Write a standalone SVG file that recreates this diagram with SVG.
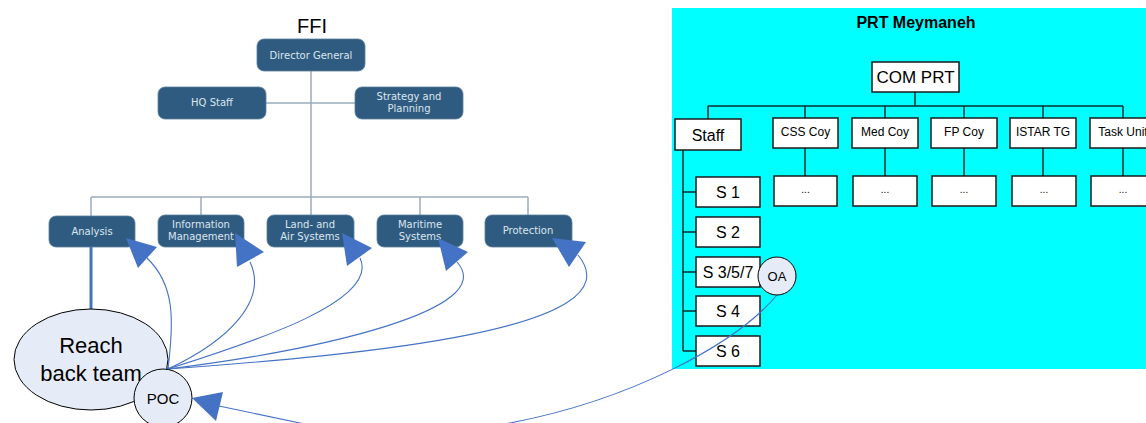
<svg xmlns="http://www.w3.org/2000/svg" width="1146" height="423" viewBox="0 0 1146 423">
<style>
.ffi rect{fill:#2f5b80;stroke:#5a7d9c;stroke-width:0.8}
.ffi text{fill:#dbe6ef;font-family:"DejaVu Sans",sans-serif;font-size:10px;text-anchor:middle}
.org{stroke:#9aacbf;stroke-width:1.5;fill:none}
.box rect{fill:#fff;stroke:#1a1a1a;stroke-width:1.5}
.box text{font-family:"Liberation Sans",Arial,sans-serif;fill:#000;text-anchor:middle}
.tree{stroke:#0e2e2e;stroke-width:1.5;fill:none}
.cv{fill:none;stroke:#4472c4;stroke-width:1.1}
.ah{fill:#4472c4}
.bub{fill:#e6ecf7;stroke:#000;stroke-width:1}
.bt{font-family:"Liberation Sans",Arial,sans-serif;fill:#000;text-anchor:middle}
</style>
<rect width="1146" height="423" fill="#fff"/>
<!-- PRT panel -->
<rect id="prt-panel" x="672" y="8" width="480" height="361" fill="#00ffff"/>
<text x="916" y="28" class="bt" font-size="16" font-weight="bold">PRT Meymaneh</text>
<!-- tree lines -->
<g id="prt-lines" class="tree">
<path d="M915,92V106M708,106H1123M708,106V119M805,106V118M885,106V118M964,106V118M1043,106V118M1123,106V118"/>
<path d="M805,148V176M885,148V176M964,148V176M1043,148V176M1123,148V176"/>
<path d="M683,150V351M683,192H696M683,232H696M683,272H696M683,311H696M683,351H696"/>
</g>
<g id="com-prt" class="box"><rect x="872" y="62" width="87" height="30"/><text x="915.5" y="83" font-size="17">COM PRT</text></g>
<g id="staff" class="box"><rect x="675" y="119" width="66" height="31"/><text x="708" y="141" font-size="16">Staff</text></g>
<g id="css-coy" class="box"><rect x="773" y="118" width="65" height="30"/><text x="805.5" y="136" font-size="12">CSS Coy</text></g>
<g id="med-coy" class="box"><rect x="852" y="118" width="66" height="30"/><text x="885" y="136" font-size="12">Med Coy</text></g>
<g id="fp-coy" class="box"><rect x="931" y="118" width="66" height="30"/><text x="964" y="136" font-size="12">FP Coy</text></g>
<g id="istar-tg" class="box"><rect x="1010" y="118" width="66" height="30"/><text x="1043" y="136" font-size="12">ISTAR TG</text></g>
<g id="task-unit" class="box"><rect x="1090" y="118" width="66" height="30"/><text x="1123" y="136" font-size="12">Task Unit</text></g>
<g id="css-sub" class="box"><rect x="774" y="176" width="63" height="30"/><text x="805.5" y="193" font-size="10">...</text></g>
<g id="med-sub" class="box"><rect x="853" y="176" width="64" height="30"/><text x="885" y="193" font-size="10">...</text></g>
<g id="fp-sub" class="box"><rect x="932" y="176" width="64" height="30"/><text x="964" y="193" font-size="10">...</text></g>
<g id="istar-sub" class="box"><rect x="1012" y="176" width="64" height="30"/><text x="1044" y="193" font-size="10">...</text></g>
<g id="task-sub" class="box"><rect x="1091" y="176" width="64" height="30"/><text x="1123" y="193" font-size="10">...</text></g>
<g id="s1" class="box"><rect x="696" y="177" width="64" height="30"/><text x="728" y="198" font-size="16">S 1</text></g>
<g id="s2" class="box"><rect x="696" y="217" width="64" height="30"/><text x="728" y="238" font-size="16">S 2</text></g>
<g id="s357" class="box"><rect x="696" y="257" width="64" height="30"/><text x="728" y="278" font-size="16">S 3/5/7</text></g>
<g id="s4" class="box"><rect x="696" y="296" width="64" height="30"/><text x="728" y="317" font-size="16">S 4</text></g>
<g id="s6" class="box"><rect x="696" y="336" width="64" height="30"/><text x="728" y="357" font-size="16">S 6</text></g>
<!-- FFI -->
<text x="312" y="33" class="bt" font-size="20">FFI</text>
<g id="ffi-lines" class="org">
<path d="M311,71V215M266,103H355M91,197H528M91,197V216M201,197V215M420,197V215M528,197V215"/>
</g>
<g id="director" class="ffi"><rect x="257" y="39" width="108" height="32" rx="7"/><text x="311" y="59">Director General</text></g>
<g id="hq-staff" class="ffi"><rect x="158" y="87" width="108" height="32" rx="7"/><text x="212" y="106">HQ Staff</text></g>
<g id="strategy" class="ffi"><rect x="355" y="87" width="108" height="32" rx="7"/><text x="409" y="100">Strategy and</text><text x="409" y="112">Planning</text></g>
<g id="analysis" class="ffi"><rect x="49" y="216" width="86" height="31" rx="7"/><text x="92" y="235">Analysis</text></g>
<g id="info-mgmt" class="ffi"><rect x="158" y="215" width="86" height="32" rx="7"/><text x="201" y="228">Information</text><text x="201" y="240">Management</text></g>
<g id="land-air" class="ffi"><rect x="267" y="215" width="87" height="32" rx="7"/><text x="310" y="228">Land- and</text><text x="310" y="240">Air Systems</text></g>
<g id="maritime" class="ffi"><rect x="377" y="215" width="86" height="32" rx="7"/><text x="420" y="228">Maritime</text><text x="420" y="240">Systems</text></g>
<g id="protection" class="ffi"><rect x="485" y="215" width="87" height="32" rx="7"/><text x="528" y="234">Protection</text></g>
<!-- connectors -->
<g id="connectors">
<line x1="91" y1="247" x2="91" y2="310" stroke="#4472c4" stroke-width="3"/>
<path class="cv" d="M168,369C174,320 175,285 147,258"/>
<path class="cv" d="M168,369C230,340 268,300 250,262"/>
<path class="cv" d="M168,369C260,340 380,300 360,258"/>
<path class="cv" d="M168,369C320,350 500,310 457,262"/>
<path class="cv" d="M168,369C360,355 640,330 578,255"/>
<path class="cv" d="M777,295C735,345 630,400 510,423C450,434 350,434 300,423L219,406"/>
<polygon class="ah" points="126,238 157,247 138,268"/>
<polygon class="ah" points="235,233 264,252 237,267"/>
<polygon class="ah" points="342,233 372,248 347,266"/>
<polygon class="ah" points="438,238 468,252 446,271"/>
<polygon class="ah" points="552,238 586,242 569,267"/>
<polygon class="ah" points="192,398 223,392 216,421"/>
</g>
<g id="reach-back">
<ellipse class="bub" cx="91" cy="359.5" rx="77" ry="50.5"/>
<text class="bt" x="91" y="353" font-size="22">Reach</text>
<text class="bt" x="91" y="381" font-size="22">back team</text>
</g>
<circle cx="168" cy="369" r="2" fill="#4472c4"/>
<g id="poc">
<circle class="bub" cx="163" cy="398" r="29"/>
<text class="bt" x="163" y="404" font-size="15">POC</text>
</g>
<g id="oa">
<circle class="bub" cx="777" cy="276" r="19"/>
<text class="bt" x="777" y="281" font-size="13">OA</text>
</g>
</svg>
